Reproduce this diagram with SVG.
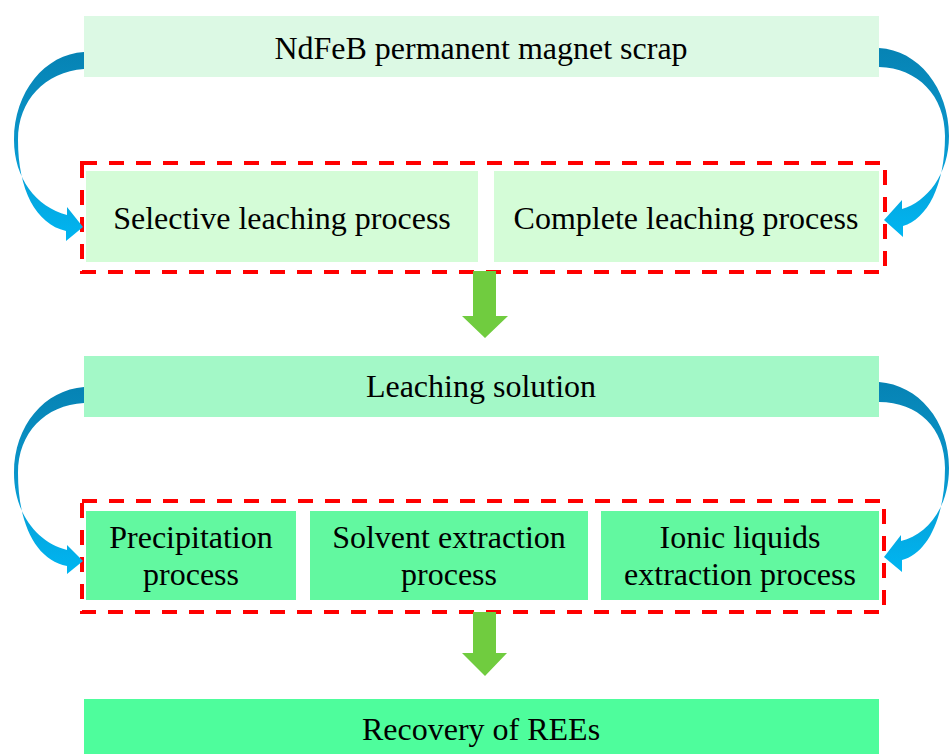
<svg xmlns="http://www.w3.org/2000/svg" width="949" height="754" viewBox="0 0 949 754">
<defs>
<linearGradient id="blueGrad" x1="0" y1="0" x2="0" y2="1">
<stop offset="0" stop-color="#0683b4"/>
<stop offset="0.45" stop-color="#0a94c9"/>
<stop offset="1" stop-color="#00b6f2"/>
</linearGradient>
<style>
.t{font-family:"Liberation Serif","Times New Roman",serif;font-size:32px;fill:#000;text-anchor:middle}
.dash{fill:none;stroke:#ff0000;stroke-width:4;stroke-dasharray:15 12}
.garrow{fill:#70cc3f}
.barrow{fill:url(#blueGrad)}
</style>
</defs>
<rect width="949" height="754" fill="#ffffff"/>

<g id="node-scrap">
<rect x="84" y="16" width="795" height="61" fill="#dcf9e4"/>
<text class="t" x="481" y="59">NdFeB permanent magnet scrap</text>
</g>

<g id="group-leaching">
<rect class="dash" x="82" y="163" width="803" height="109"/>
</g>
<g id="node-selective">
<rect x="86" y="171" width="392" height="91" fill="#d4fcd7"/>
<text class="t" x="282" y="229">Selective leaching process</text>
</g>
<g id="node-complete">
<rect x="494" y="171" width="385" height="91" fill="#d4fcd7"/>
<text class="t" x="686" y="229">Complete leaching process</text>
</g>

<g id="node-solution">
<rect x="84" y="356" width="795" height="61" fill="#a3f8c7"/>
<text class="t" x="481" y="397">Leaching solution</text>
</g>

<g id="group-separation">
<rect class="dash" x="82" y="501" width="802" height="111"/>
</g>
<g id="node-precipitation">
<rect x="86" y="511" width="210" height="89" fill="#62f8a0"/>
<text class="t" x="191" y="548">Precipitation</text>
<text class="t" x="191" y="585">process</text>
</g>
<g id="node-solvent">
<rect x="310" y="511" width="278" height="89" fill="#62f8a0"/>
<text class="t" x="449" y="548">Solvent extraction</text>
<text class="t" x="449" y="585">process</text>
</g>
<g id="node-ionic">
<rect x="601" y="511" width="278" height="89" fill="#62f8a0"/>
<text class="t" x="740" y="548">Ionic liquids</text>
<text class="t" x="740" y="585">extraction process</text>
</g>

<g id="node-recovery">
<rect x="84" y="699" width="795" height="60" fill="#4efd9c"/>
<text class="t" x="481" y="740">Recovery of REEs</text>
</g>

<g id="connectors">
<path class="garrow" d="M473,271 L496,271 L496,316 L508,316 L485,338 L462,316 L473,316 Z"/>
<path class="garrow" d="M473,612 L496,612 L496,653 L507,653 L485,676 L462,653 L473,653 Z"/>

<path class="barrow" d="M84,52 C45,54 14,92 14,140 C14,178 36,207 67,215 L67,207 L83,227 L66,241 L66,231 C36,224 18,190 18,140 C18,100 45,72 84,69 Z"/>
<path class="barrow" d="M879,48 C918,50 949,88 949,136 C949,174 927,202 902,209 L902,200 L884,220 L903,237 L903,226 C927,219 945,186 945,136 C945,96 918,68 879,67 Z"/>
<path class="barrow" d="M84,387 C45,390 14,425 14,473 C14,512 36,542 67,550 L67,545 L83,561 L67,574 L67,566 C36,560 18,524 18,473 C18,433 45,405 84,403 Z"/>
<path class="barrow" d="M879,382 C918,385 949,420 949,468 C949,508 927,535 901,541 L901,535 L884,557 L902,572 L902,560 C927,554 945,518 945,468 C945,428 918,402 879,402 Z"/>
</g>
</svg>
